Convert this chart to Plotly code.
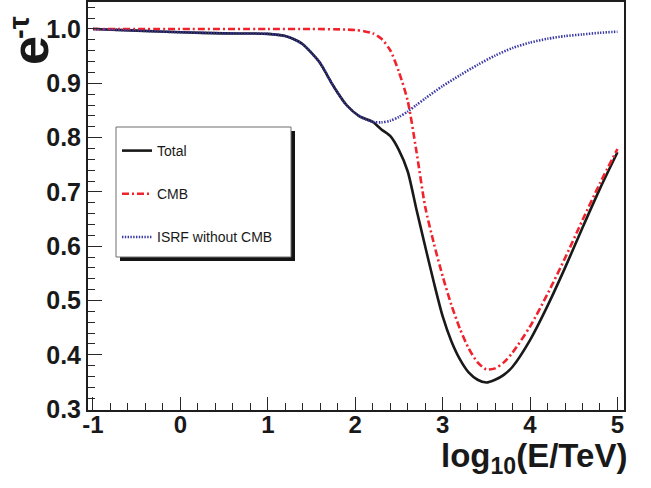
import plotly.graph_objects as go

# ---- data ----
x_total = [-1.0, -0.5, 0.0, 0.5, 1.0, 1.2, 1.3, 1.4, 1.5, 1.6, 1.75, 1.9, 2.05, 2.2, 2.3, 2.4, 2.5, 2.6,
           2.7, 2.8, 2.9, 3.0, 3.1, 3.2, 3.3, 3.4, 3.5, 3.6, 3.7, 3.8, 4.0, 4.2, 4.4, 4.6, 4.8, 5.0]
y_total = [1.000, 0.997, 0.994, 0.992, 0.991, 0.987, 0.981, 0.972, 0.956, 0.937, 0.895, 0.860, 0.839,
           0.829, 0.815, 0.803, 0.777, 0.738, 0.668, 0.600, 0.533, 0.471, 0.425, 0.391, 0.367, 0.354,
           0.349, 0.354, 0.363, 0.378, 0.427, 0.490, 0.560, 0.634, 0.706, 0.773]

x_cmb = [-1.0, 0.0, 1.0, 1.5, 1.9, 2.0, 2.1, 2.2, 2.3, 2.4, 2.5, 2.6, 2.7, 2.8, 2.9, 3.0, 3.1, 3.2,
         3.3, 3.4, 3.5, 3.6, 3.7, 3.8, 4.0, 4.2, 4.4, 4.6, 4.8, 5.0]
y_cmb = [1.000, 1.000, 1.000, 1.000, 0.999, 0.998, 0.996, 0.992, 0.982, 0.961, 0.921, 0.868, 0.775,
         0.673, 0.605, 0.545, 0.492, 0.447, 0.411, 0.386, 0.373, 0.375, 0.386, 0.404, 0.452, 0.512,
         0.578, 0.648, 0.716, 0.779]

x_isrf = [-1.0, -0.5, 0.0, 0.5, 1.0, 1.2, 1.3, 1.4, 1.5, 1.6, 1.75, 1.9, 2.05, 2.2, 2.3, 2.4, 2.5,
          2.6, 2.7, 2.8, 3.0, 3.2, 3.4, 3.6, 3.8, 4.0, 4.2, 4.4, 4.6, 4.8, 5.0]
y_isrf = [1.000, 0.997, 0.994, 0.992, 0.991, 0.987, 0.981, 0.972, 0.956, 0.937, 0.895, 0.860, 0.839,
          0.829, 0.828, 0.831, 0.838, 0.848, 0.860, 0.872, 0.895, 0.915, 0.934, 0.951, 0.965, 0.975,
          0.982, 0.987, 0.990, 0.993, 0.995]

names = ["Total", "CMB", "ISRF without CMB"]
colors = ["rgb(25,25,25)", "rgb(240,35,45)", "rgb(55,55,165)"]
dashes = ["solid", "7px,3px,2px,3px", "1.4px,1.4px"]

x_ticks = [-1, 0, 1, 2, 3, 4, 5]
y_ticks = [0.3, 0.4, 0.5, 0.6, 0.7, 0.8, 0.9, 1.0]

FONT = "Liberation Sans"

fig = go.Figure()
for xs, ys, nm, c, d in zip([x_total, x_cmb, x_isrf], [y_total, y_cmb, y_isrf], names, colors, dashes):
    fig.add_trace(go.Scatter(x=xs, y=ys, mode="lines", name=nm, legendgroup=nm,
                             line=dict(color=c, width=2.6, dash=d, shape="spline", smoothing=0.7)))

# legend box with shadow (ROOT style)
W, H = 651, 488
L, R, T, B = 88, 27, 2, 78
pw, ph = W - L - R, H - T - B

def px(xp):
    return (xp - L) / pw

def py(yp):
    return (H - B - yp) / ph

shapes = [
    dict(type="rect", xref="paper", yref="paper", x0=px(120), x1=px(295), y0=py(261), y1=py(131),
         fillcolor="rgb(20,20,20)", line=dict(width=0), layer="below"),
    dict(type="rect", xref="paper", yref="paper", x0=px(116), x1=px(291), y0=py(257), y1=py(127),
         fillcolor="white", line=dict(color="rgb(110,110,110)", width=1), layer="below"),
]

title_font = dict(family=FONT, color="rgb(25,25,25)", weight="bold")
annotations = [
    # y-axis title e^{-tau}, rotated like ROOT
    dict(text="e", xref="paper", yref="paper", x=px(30), y=py(51),
         xanchor="center", yanchor="middle", textangle=-90, showarrow=False,
         font=dict(size=52, **title_font)),
    dict(text="-τ", xref="paper", yref="paper", x=px(19), y=py(28),
         xanchor="center", yanchor="middle", textangle=-90, showarrow=False,
         font=dict(size=29, **title_font)),
    dict(text="log<sub>10</sub>(E/TeV)", xref="paper", yref="paper", x=px(629), y=py(458),
         xanchor="right", yanchor="middle", showarrow=False,
         font=dict(size=33, **title_font)),
]

fig.update_layout(
    width=W, height=H, margin=dict(l=L, r=R, t=T, b=B),
    paper_bgcolor="white", plot_bgcolor="white",
    showlegend=True,
    legend=dict(x=px(117), y=py(135), xanchor="left", yanchor="top",
                bgcolor="rgba(0,0,0,0)", borderwidth=0, itemwidth=30,
                tracegroupgap=22, traceorder="grouped",
                font=dict(family=FONT, size=14, color="rgb(25,25,25)")),
    shapes=shapes, annotations=annotations,
)

fig.update_xaxes(range=[-1.057, 5.075], tickvals=x_ticks, ticktext=[str(v) for v in x_ticks],
                 ticks="inside", ticklen=13, tickwidth=1, tickcolor="rgb(40,40,40)",
                 minor=dict(dtick=0.2, tick0=0, ticks="inside", ticklen=7, tickcolor="rgb(40,40,40)"),
                 showline=True, linecolor="rgb(30,30,30)", linewidth=2, mirror=True,
                 showgrid=False, zeroline=False, automargin=False, ticklabelstandoff=-8,
                 tickfont=dict(family=FONT, size=24, color="rgb(25,25,25)", weight="bold"))
fig.update_yaxes(range=[0.2983, 1.0497], tickvals=y_ticks, ticktext=["%.1f" % v for v in y_ticks],
                 ticks="inside", ticklen=14, tickwidth=1, tickcolor="rgb(40,40,40)",
                 minor=dict(dtick=0.02, tick0=0.3, ticks="inside", ticklen=7, tickcolor="rgb(40,40,40)"),
                 showline=True, linecolor="rgb(30,30,30)", linewidth=2, mirror=True,
                 showgrid=False, zeroline=False, automargin=False,
                 tickfont=dict(family=FONT, size=25, color="rgb(25,25,25)", weight="bold"))

fig.write_html("out.html", config={"displayModeBar": False},
               post_script="document.body.style.margin='0';document.body.style.overflow='hidden';")
